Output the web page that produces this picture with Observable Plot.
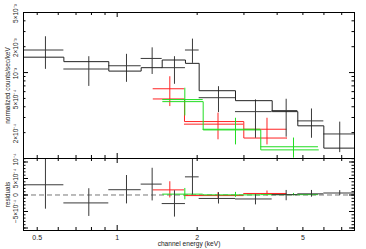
<!DOCTYPE html>
<html><head><meta charset="utf-8">
<script src="https://cdn.jsdelivr.net/npm/d3@7"></script>
<script src="https://cdn.jsdelivr.net/npm/@observablehq/plot@0.6"></script>
<style>
body{margin:0;background:#fff;}
#c{position:relative;width:366px;height:249px;overflow:hidden;}
#c svg{position:absolute;left:0;top:0;}
</style></head><body><div id="c"></div>
<script>
// ---- data (keV, normalized counts/sec/keV) ----
const blackEdges = [0.444, 0.630, 0.930, 1.231, 1.477, 1.807, 2.035, 2.788, 3.832, 4.784, 5.995, 7.9];
const blackE     = [0.537, 0.782, 1.084, 1.354, 1.643, 1.920, 2.406, 3.315, 4.325, 5.386, 6.88];
const blackData  = [1.83e-3, 1.10e-3, 1.20e-3, 1.46e-3, 1.14e-3, 1.83e-3, 5.10e-4, 3.51e-4, 3.61e-4, 2.74e-4, 1.93e-4];
const blackErrUp = [7.8e-4, 4.3e-4, 4.3e-4, 4.8e-4, 3.9e-4, 6.2e-4, 1.75e-4, 1.3e-4, 1.28e-4, 1.03e-4, 0.72e-4];
const blackErrDn = [7.4e-4, 4.1e-4, 4.3e-4, 5.1e-4, 4.1e-4, 5.5e-4, 1.68e-4, 1.79e-4, 1.84e-4, 1.02e-4, 0.76e-4];
const blackModel = [1.51e-3, 1.34e-3, 1.04e-3, 1.14e-3, 1.40e-3, 1.28e-3, 6.15e-4, 4.71e-4, 3.51e-4, 2.40e-4, 1.32e-4];
const blackResid = [3.1e-4, -2.4e-4, 1.6e-4, 3.3e-4, -2.6e-4, 5.5e-4, -1.05e-4, -1.2e-4, 0.1e-4, 0.35e-4, 0.6e-4];

const redEdges = [1.366, 1.792, 2.996, 4.356];
const redE     = [1.578, 2.396, 3.663];
const redData  = [6.48e-4, 2.51e-4, 2.19e-4];
const redErr   = [2.46e-4, 0.86e-4, 0.75e-4];
const redModel = [4.93e-4, 2.69e-4, 1.73e-4];
const redResid = [1.55e-4, -0.18e-4, 0.46e-4];

const greenEdges = [1.484, 2.107, 3.471, 5.722];
const greenE     = [1.797, 2.788, 4.609];
const greenData  = [4.85e-4, 2.19e-4, 1.37e-4];
const greenErr   = [1.72e-4, 0.75e-4, 0.36e-4];
const greenModel = [4.59e-4, 2.15e-4, 1.26e-4];
const greenResid = [0.26e-4, 0.04e-4, 0.11e-4];

// ---- axis ticks / labels ----
const xLabels = [0.5, 1, 2, 5];
const xMajor = [1];
const xMinor = [0.5, 0.6, 0.7, 0.8, 0.9, 2, 3, 4, 5, 6, 7];
const yMainLabels = [[5e-3,"5×10⁻³"],[2e-3,"2×10⁻³"],[1e-3,"10⁻³"],[5e-4,"5×10⁻⁴"],[2e-4,"2×10⁻⁴"],[1e-4,"10⁻⁴"]];
const yMainMajor = [1e-4, 1e-3];
const yMainMinor = [2e-4,3e-4,4e-4,5e-4,6e-4,7e-4,8e-4,9e-4,2e-3,3e-3,4e-3,5e-3];
const yResLabels = [[5e-4,"5×10⁻⁴"],[0,"0"],[-5e-4,"−5×10⁻⁴"]];
const yResMajor = [-1e-3, -5e-4, 0, 5e-4, 1e-3];
const yResMinor = d3.range(-10, 12).map(k => k * 1e-4);

// ---- layout ----
const W = 366, H = 249, ML = 23, MR = 12, MT = 12, MD = 158, MB = 19;
const xDomain = [0.444, 7.82];
const font = "'Liberation Sans', Arial, sans-serif";
const BLACK = "#222", BLACKD = "#3a3a3a", RED = "#f22", GREEN = "#2d2";

function rows(edges, E, val, up, dn) {
  return E.map((e, i) => ({x1: edges[i], x2: edges[i+1], xc: e, v: val[i], lo: val[i] - dn[i], hi: val[i] + up[i]}));
}
function steps(edges, model) {
  return edges.map((e, i) => ({x: e, y: model[Math.min(i, model.length - 1)]}));
}
function cross(r, stroke) {
  return [
    Plot.ruleY(r, {y: "v", x1: "x1", x2: "x2", stroke, strokeWidth: 1, clip: true}),
    Plot.ruleX(r, {x: "xc", y1: "lo", y2: "hi", stroke, strokeWidth: 1, clip: true})
  ];
}
function frameTicks(ph, xMaj, xMin, yMaj, yMin) {
  const pw = W - ML - MR;
  const o = {stroke: "#000", strokeWidth: 1};
  return [
    Plot.ruleX(xMaj, {...o, insetBottom: ph - 5}),
    Plot.ruleX(xMaj, {...o, insetTop: ph - 5}),
    Plot.ruleX(xMin, {...o, insetBottom: ph - 3}),
    Plot.ruleX(xMin, {...o, insetTop: ph - 3}),
    Plot.ruleY(yMaj, {...o, insetRight: pw - 5}),
    Plot.ruleY(yMaj, {...o, insetLeft: pw - 5}),
    Plot.ruleY(yMin, {...o, insetRight: pw - 2.5}),
    Plot.ruleY(yMin, {...o, insetLeft: pw - 2.5})
  ];
}

const bRows = rows(blackEdges, blackE, blackData, blackErrUp, blackErrDn);
const rRows = rows(redEdges, redE, redData, redErr, redErr);
const gRows = rows(greenEdges, greenE, greenData, greenErr, greenErr);
const bRes = rows(blackEdges, blackE, blackResid, blackErrUp, blackErrDn);
const rRes = rows(redEdges, redE, redResid, redErr, redErr);
const gRes = rows(greenEdges, greenE, greenResid, greenErr, greenErr);

const textStyle = {fill: "#222", fontSize: 6.5, fontFamily: font, textAnchor: "middle", lineAnchor: "middle"};

const main = Plot.plot({
  width: W, height: H, marginLeft: ML, marginRight: MR, marginTop: MT, marginBottom: H - MD,
  x: {type: "log", domain: xDomain, axis: null},
  y: {type: "log", domain: [1e-4, 5e-3], axis: null},
  style: {background: "transparent", fontFamily: font},
  marks: [
    ...cross(rRows, RED),
    Plot.line(steps(redEdges, redModel), {x: "x", y: "y", curve: "step-after", stroke: RED, strokeWidth: 1, clip: true}),
    ...cross(gRows, GREEN),
    Plot.line(steps(greenEdges, greenModel), {x: "x", y: "y", curve: "step-after", stroke: GREEN, strokeWidth: 1, clip: true}),
    ...cross(bRows, BLACKD),
    Plot.line(steps(blackEdges, blackModel), {x: "x", y: "y", curve: "step-after", stroke: BLACK, strokeWidth: 1, clip: true}),
    Plot.frame({stroke: "#000", strokeWidth: 1}),
    ...frameTicks(MD - MT, xMajor, xMinor, yMainMajor, yMainMinor),
    Plot.text(yMainLabels, {y: d => d[0], text: d => d[1], frameAnchor: "left", dx: -8, dy: 1, rotate: -90, ...textStyle}),
    Plot.text(["normalized counts/sec/keV"], {frameAnchor: "left", dx: -15.5, rotate: -90, ...textStyle, fontSize: 6.4})
  ]
});

const res = Plot.plot({
  width: W, height: H, marginLeft: ML, marginRight: MR, marginTop: MD, marginBottom: MB,
  x: {type: "log", domain: xDomain, axis: null},
  y: {domain: [-1.076e-3, 1.106e-3], axis: null},
  style: {background: "transparent", fontFamily: font},
  marks: [
    Plot.ruleY([0], {stroke: "#777", strokeWidth: 1, strokeDasharray: "5,3"}),
    ...cross(rRes, RED),
    ...cross(gRes, GREEN),
    ...cross(bRes, BLACKD),
    Plot.frame({stroke: "#000", strokeWidth: 1}),
    ...frameTicks(H - MB - MD, xMajor, xMinor, yResMajor, yResMinor),
    Plot.text(yResLabels, {y: d => d[0], text: d => d[1], frameAnchor: "left", dx: -8, rotate: -90, ...textStyle}),
    Plot.text(["residuals"], {frameAnchor: "left", dx: -15.5, rotate: -90, ...textStyle, fontSize: 6.4}),
    Plot.text(xLabels, {x: d => d, text: d => String(d), frameAnchor: "bottom", dy: 6.8, ...textStyle, fontSize: 7}),
    Plot.text(["channel energy (keV)"], {frameAnchor: "bottom", dy: 13.2, ...textStyle, fontSize: 6.6})
  ]
});

const c = document.getElementById("c");
c.appendChild(main);
c.appendChild(res);
</script></body></html>
